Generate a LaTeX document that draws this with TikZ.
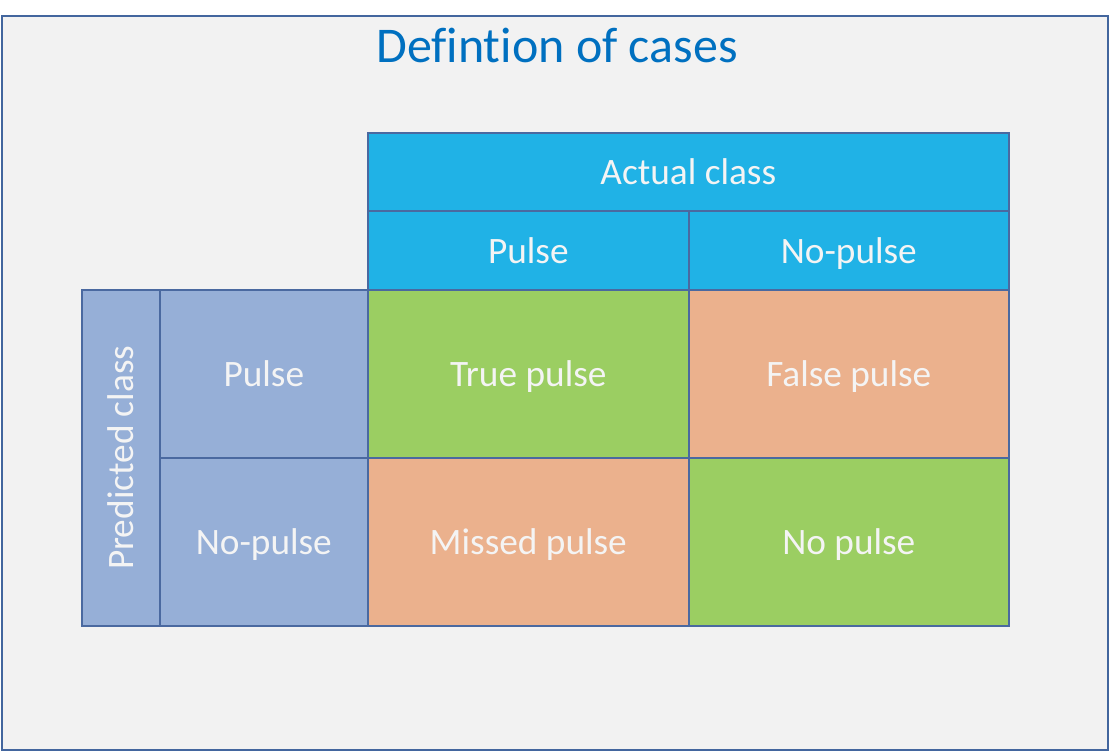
\documentclass[tikz,border=0pt]{standalone}
\usepackage{fontspec}
\setmainfont[Ligatures=NoCommon]{Carlito}
\definecolor{bgc}{HTML}{F2F2F2}
\definecolor{frame}{HTML}{43669E}
\definecolor{cellline}{HTML}{4A69A0}
\definecolor{titlec}{HTML}{0070C0}
\definecolor{headc}{HTML}{20B2E6}
\definecolor{predc}{HTML}{96AFD7}
\definecolor{greenc}{HTML}{9BCE62}
\definecolor{orangec}{HTML}{EBB18D}
\definecolor{txtc}{HTML}{F4F4F4}
\tikzset{
  celltext/.style={text=txtc, font=\fontsize{37.3}{45}\selectfont, text height=30pt, text depth=4pt, inner sep=0pt},
  cell/.style={celltext, draw=cellline, line width=1.6pt, anchor=north west},
}
\begin{document}
\begin{tikzpicture}[x=1pt,y=-1pt]
\useasboundingbox (0,0) rectangle (1110,752);
\fill[white] (0,0) rectangle (1110,752);
\draw[frame, fill=bgc, line width=1.6pt] (2,16) rectangle (1108,750);
\node[text=titlec, font=\fontsize{50}{60}\selectfont, anchor=base, inner sep=0pt] (title) at (557,63) {Defintion of cases};
% header
\node[cell, fill=headc, minimum width=641pt, minimum height=78pt] (actual) at (367,132) {Actual class};
\node[cell, fill=headc, minimum width=321pt, minimum height=79pt] (hpulse) at (367,210) {Pulse};
\node[cell, fill=headc, minimum width=320pt, minimum height=79pt] (hnopulse) at (688,210) {No-pulse};
% predicted
\node[cell, fill=predc, minimum width=78pt, minimum height=336pt] (pred) at (81,289) {};
\node[celltext, rotate=90] (predlabel) at (pred.center) {Predicted class};
\node[cell, fill=predc, minimum width=208pt, minimum height=168pt] (ppulse) at (159,289) {Pulse};
\node[cell, fill=predc, minimum width=208pt, minimum height=168pt] (pnopulse) at (159,457) {No-pulse};
% body
\node[cell, fill=greenc, minimum width=321pt, minimum height=168pt] (tp) at (367,289) {True pulse};
\node[cell, fill=orangec, minimum width=320pt, minimum height=168pt] (fp) at (688,289) {False pulse};
\node[cell, fill=orangec, minimum width=321pt, minimum height=168pt] (mp) at (367,457) {Missed pulse};
\node[cell, fill=greenc, minimum width=320pt, minimum height=168pt] (np) at (688,457) {No pulse};
\end{tikzpicture}
\end{document}
